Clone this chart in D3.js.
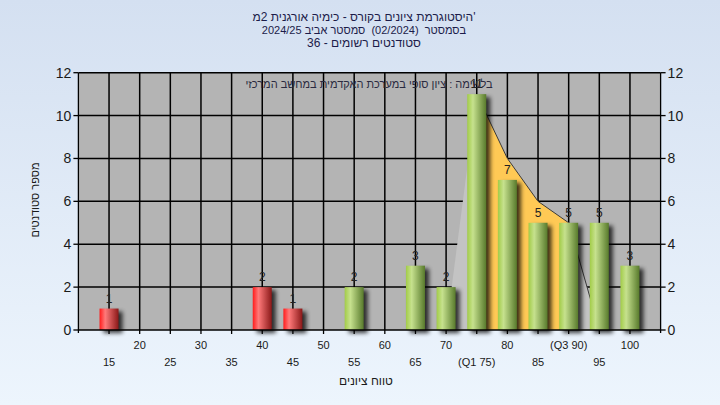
<!DOCTYPE html>
<html><head><meta charset="utf-8">
<script src="https://cdn.jsdelivr.net/npm/d3@7"></script>
<style>html,body{margin:0;padding:0;}svg{display:block;font-family:"Liberation Sans","DejaVu Sans",Arial,sans-serif;}</style>
</head><body>
<svg id="c" width="720" height="405"></svg>
<script>
const categories = [15,20,25,30,35,40,45,50,55,60,65,70,75,80,85,90,95,100];
const tickLabels = ["15","20","25","30","35","40","45","50","55","60","65","70","(Q1 75)","80","85","(Q3 90)","95","100"];
const counts = [1,0,0,0,0,2,1,0,2,0,3,2,11,7,5,5,5,3];
const passMark = 55;
const curveCats = [70,75,80,85,90,95];
const curveVals = [0,11,8,6,5,0];
const q1 = 75, q3 = 90;
const yTicks = [0,2,4,6,8,10,12];
const titleLines = ["היסטוגרמת ציונים בקורס - כימיה אורגנית 2מ'", "בסמסטר  (02/2024)  סמסטר אביב 2024/25", "סטודנטים רשומים - 36"];
const noteText = "בלשימה : ציון סופי במערכת האקדמית במחשב המרכזי";
const xTitle = "טווח ציונים";
const yTitle = "מספר סטודנטים";

const svg = d3.select("#c");
const defs = svg.append("defs");
const bg = defs.append("linearGradient").attr("id","bg").attr("x1",0).attr("y1",0).attr("x2",0).attr("y2",1);
bg.append("stop").attr("offset","0%").attr("stop-color","#d4e0f1");
bg.append("stop").attr("offset","100%").attr("stop-color","#edf5fd");
function barGrad(id, c0, c1, c2){
  const g = defs.append("linearGradient").attr("id",id).attr("x1",0).attr("y1",0).attr("x2",1).attr("y2",0);
  g.append("stop").attr("offset","0%").attr("stop-color",c0);
  g.append("stop").attr("offset","30%").attr("stop-color",c1);
  g.append("stop").attr("offset","100%").attr("stop-color",c2);
}
barGrad("gGreen","#a2cc48","#c6e18e","#587a2c");
barGrad("gRed","#ff1c1c","#ff7a7a","#8a1818");
const sh = defs.append("filter").attr("id","sh").attr("x","-50%").attr("y","-20%").attr("width","200%").attr("height","140%");
sh.append("feGaussianBlur").attr("in","SourceAlpha").attr("stdDeviation",2);

svg.append("rect").attr("width",720).attr("height",405).attr("fill","url(#bg)");

const L = 78.4, R = 660.6, T = 72.7, B = 330;
const x = d3.scalePoint().domain(categories).range([L,R]).padding(1);
const y = d3.scaleLinear().domain([0,12]).range([B,T]);

svg.append("rect").attr("x",L).attr("y",T).attr("width",R-L).attr("height",B-T).attr("fill","#b4b4b4");

// grid
const grid = svg.append("g").attr("stroke","#000").attr("stroke-width",1.5);
grid.selectAll("line.h").data(yTicks.slice(1)).join("line")
  .attr("x1",L).attr("x2",R).attr("y1",d=>y(d)).attr("y2",d=>y(d));
grid.selectAll("line.v").data(categories).join("line")
  .attr("x1",d=>x(d)).attr("x2",d=>x(d)).attr("y1",T).attr("y2",B);

// curve area
const pts = curveCats.map((c,i)=>({c, v:curveVals[i]}));
const area = d3.area().x(d=>x(d.c)).y0(y(0)).y1(d=>y(d.v));
const line = d3.line().x(d=>x(d.c)).y(d=>y(d.v));
svg.append("path").datum(pts).attr("d",area).attr("fill","#c3c3c3");
const mid = pts.filter(d=>d.c>=q1 && d.c<=q3);
svg.append("path").datum(mid).attr("d",area).attr("fill","#ffc955");
svg.append("path").datum(pts.filter(d=>d.c>=q1)).attr("d",line).attr("fill","none").attr("stroke","#3a3a3a").attr("stroke-width",1);

// bars
const bw = 19;
const bars = categories.map((c,i)=>({c, v:counts[i]})).filter(d=>d.v>0);
svg.append("g").selectAll("rect").data(bars).join("rect")
  .attr("x",d=>x(d.c)-bw/2+4).attr("y",d=>y(d.v)+3).attr("width",bw).attr("height",d=>y(0)-y(d.v))
  .attr("fill","#000").attr("opacity",0.75).attr("filter","url(#sh)");
svg.append("g").selectAll("rect").data(bars).join("rect")
  .attr("x",d=>x(d.c)-bw/2).attr("y",d=>y(d.v)).attr("width",bw).attr("height",d=>y(0)-y(d.v))
  .attr("fill",d=>d.c<passMark?"url(#gRed)":"url(#gGreen)");

// note text
svg.append("text").attr("x",369).attr("y",88).attr("text-anchor","middle").attr("direction","rtl")
  .attr("font-size",11).attr("fill","#2a2a40").text(noteText);

svg.append("g").selectAll("text").data(bars).join("text")
  .attr("x",d=>x(d.c)).attr("y",d=>y(d.v)-6).attr("text-anchor","middle")
  .attr("font-size",12).attr("fill","#222").text(d=>d.v);

// axes
const ax = svg.append("g").attr("stroke","#000").attr("stroke-width",1.3);
ax.append("line").attr("x1",L).attr("x2",R).attr("y1",B).attr("y2",B);
ax.append("line").attr("x1",L).attr("x2",L).attr("y1",T).attr("y2",B+3);
ax.append("line").attr("x1",R).attr("x2",R).attr("y1",T).attr("y2",B+3);
ax.selectAll("line.yt").data(yTicks).join("line").attr("x1",L-5).attr("x2",L).attr("y1",d=>y(d)).attr("y2",d=>y(d));
ax.selectAll("line.yr").data(yTicks).join("line").attr("x1",R).attr("x2",R+5).attr("y1",d=>y(d)).attr("y2",d=>y(d));
ax.selectAll("line.xt").data(categories).join("line").attr("x1",d=>x(d)).attr("x2",d=>x(d)).attr("y1",B).attr("y2",B+4);

svg.append("g").selectAll("text").data(yTicks).join("text")
  .attr("x",L-7).attr("y",d=>y(d)+5).attr("text-anchor","end").attr("font-size",14).attr("fill","#1a1a1a").text(d=>d);
svg.append("g").selectAll("text").data(yTicks).join("text")
  .attr("x",R+7).attr("y",d=>y(d)+5).attr("text-anchor","start").attr("font-size",14).attr("fill","#1a1a1a").text(d=>d);
svg.append("g").selectAll("text").data(categories).join("text")
  .attr("x",d=>x(d)).attr("y",(d,i)=> i%2===0 ? 366 : 349).attr("text-anchor","middle")
  .attr("font-size",11).attr("fill","#1a1a1a").text((d,i)=>tickLabels[i]);

svg.append("text").attr("x",366).attr("y",385).attr("text-anchor","middle").attr("direction","rtl")
  .attr("font-size",12).attr("fill","#1a1a1a").text(xTitle);
svg.append("text").attr("transform","translate(39,200) rotate(-90)").attr("text-anchor","middle").attr("direction","rtl")
  .attr("font-size",11).attr("fill","#1a1a1a").text(yTitle);

svg.append("g").selectAll("text").data(titleLines).join("text")
  .attr("x",364).attr("y",(d,i)=>21+i*13).attr("text-anchor","middle").attr("direction","ltr")
  .style("white-space","pre")
  .attr("font-size",(d,i)=> i===1 ? 11 : 12).attr("fill","#1c1c4a").text(d=>d);
</script>
</body></html>
